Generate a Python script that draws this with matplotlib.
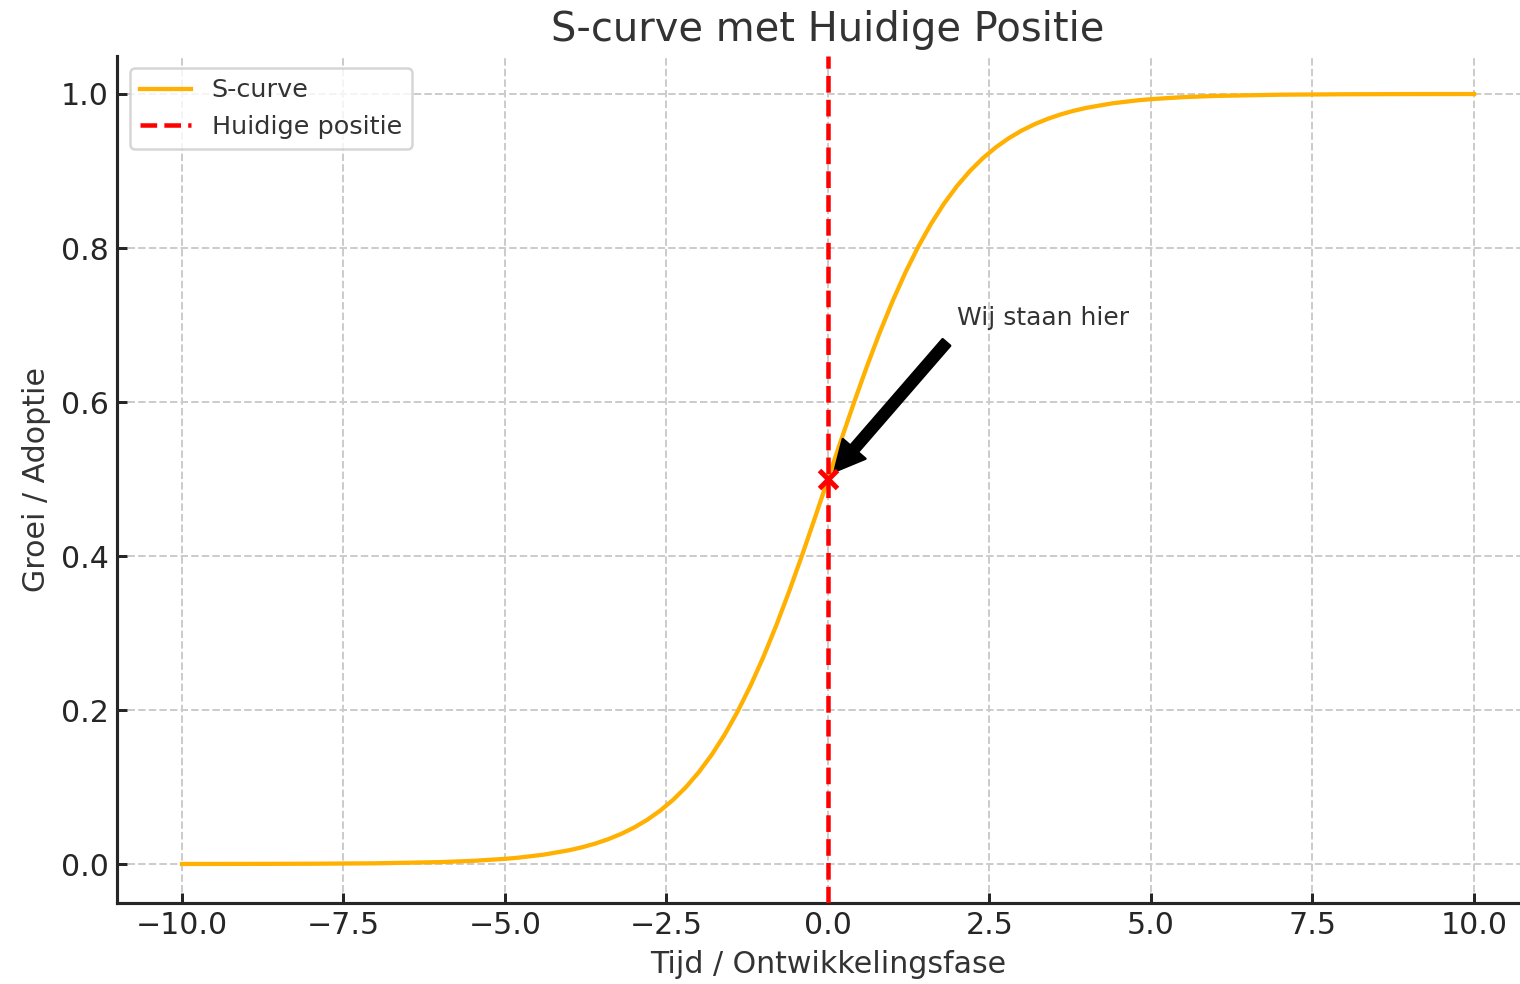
import matplotlib.pyplot as plt

# waarden
tijd = [-10, -9, -8, -7, -6, -5.5, -5, -4.8, -4.4, -4, -3.8, -3.6, -3.4,
        -3.2, -3, -2.8, -2.6, -2.4, -2.2, -2, -1.8, -1.6, -1.4, -1.2, -1,
        -0.8, -0.6, -0.4, -0.2, 0, 0.2, 0.4, 0.6, 0.8, 1, 1.2, 1.4, 1.6,
        1.8, 2, 2.2, 2.4, 2.6, 2.8, 3, 3.2, 3.4, 3.6, 3.8, 4, 4.4, 4.8, 5,
        5.5, 6, 7, 8, 9, 10]
groei = [0.00005, 0.00012, 0.00034, 0.00091, 0.00247, 0.00407, 0.00669,
         0.00816, 0.01213, 0.01799, 0.02188, 0.02660, 0.03229, 0.03917,
         0.04743, 0.05732, 0.06914, 0.08317, 0.09975, 0.11920, 0.14185,
         0.16798, 0.19782, 0.23148, 0.26894, 0.31003, 0.35434, 0.40131,
         0.45017, 0.50000, 0.54983, 0.59869, 0.64566, 0.68997, 0.73106,
         0.76852, 0.80218, 0.83202, 0.85815, 0.88080, 0.90025, 0.91683,
         0.93086, 0.94268, 0.95257, 0.96083, 0.96771, 0.97340, 0.97812,
         0.98201, 0.98787, 0.99184, 0.99331, 0.99593, 0.99753, 0.99909,
         0.99966, 0.99988, 0.99995]
huidig_x = 0
huidig_y = 0.5

titel = "S-curve met Huidige Positie"
eixox = "Tijd / Ontwikkelingsfase"
eixoy = "Groei / Adoptie"
tekstkleur = "#333333"

plt.rcParams['font.family'] = ['DejaVu Sans']
fig = plt.figure(figsize=(1521 / 180, 984 / 180), dpi=180)
ax = fig.add_axes([117.4 / 1521, 81.5 / 984, 1421.2 / 1521, 847 / 984])

ax.plot(tijd, groei, color="#FFB000", linewidth=1.7, label="S-curve", zorder=2)
ax.axvline(huidig_x, color="red", linestyle="--", linewidth=1.8,
           label="Huidige positie", zorder=3)
ax.plot([huidig_x], [huidig_y], marker="x", color="red", markersize=7,
        markeredgewidth=2, linestyle="none", zorder=4)
ax.annotate("Wij staan hier", xy=(huidig_x, huidig_y), xytext=(2, 0.7),
            fontsize=10, color=tekstkleur,
            arrowprops=dict(facecolor="black", edgecolor="black", shrink=0.05))

ax.set_xlim(-11, 11)
ax.set_ylim(-0.05, 1.05)
ax.set_title(titel, fontsize=16, color=tekstkleur)
ax.set_xlabel(eixox, fontsize=12, color=tekstkleur)
ax.set_ylabel(eixoy, fontsize=12, color=tekstkleur)
ax.tick_params(labelsize=12, colors="#262626", length=4, width=1.2,
               direction="in")
ax.grid(True, linestyle="--", color="#cccccc", linewidth=0.8)
for s in ["top", "right"]:
    ax.spines[s].set_visible(False)
for s in ["left", "bottom"]:
    ax.spines[s].set_linewidth(1.25)
    ax.spines[s].set_color("#262626")

leg = ax.legend(loc="upper left", fontsize=10.2, framealpha=0.8,
                edgecolor="#cccccc", labelcolor=tekstkleur)

plt.savefig("out.png", dpi=180)
